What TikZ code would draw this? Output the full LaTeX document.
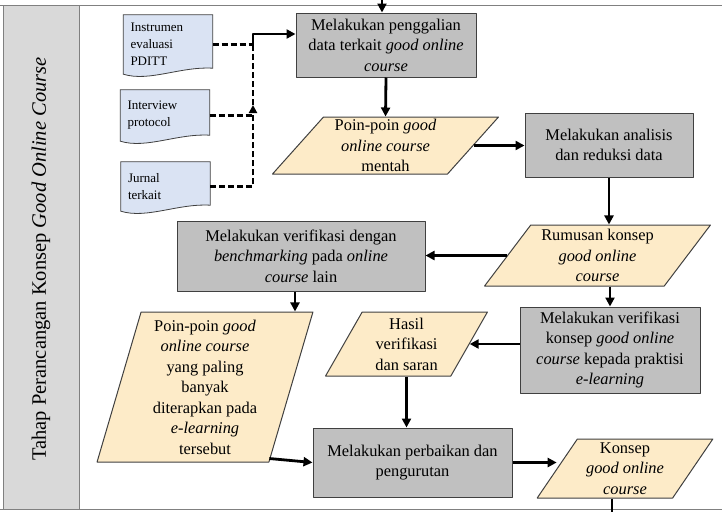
\documentclass[tikz,border=0pt]{standalone}
\usepackage{fontspec}
\setmainfont{Liberation Serif}
\usetikzlibrary{shapes.geometric,arrows.meta,backgrounds}
\definecolor{boxgray}{RGB}{192,192,192}
\definecolor{paracream}{RGB}{253,235,200}
\definecolor{docblue}{RGB}{218,227,243}
\definecolor{lanegray}{RGB}{217,217,217}
\definecolor{edgegray}{RGB}{64,64,64}
\begin{document}
\begin{tikzpicture}[x=1pt, y=-1pt, font=\fontsize{16.4pt}{20.5pt}\selectfont, line join=round,
		procbox/.style={draw=edgegray, line width=1pt, fill=boxgray, align=center, inner sep=1pt},
		databox/.style={trapezium, trapezium stretches=true, draw=edgegray, line width=1pt, fill=paracream, align=center, inner sep=1pt},
		docbox/.style={minimum width=89pt, align=left, inner sep=0pt, text width=75pt, font=\fontsize{13pt}{17pt}\selectfont},
		arr/.style={line width=2.8pt, -{Triangle[length=9pt,width=9pt]}},
		dasharr/.style={line width=2.4pt, dash pattern=on 6pt off 3pt},
		lane/.style={draw=gray, line width=1pt}]
			\useasboundingbox (0,0) rectangle (722,512);
			\fill [lanegray] (3,5) rectangle (79,509);
			\draw [lane] (3,5) rectangle (79,509);
			\draw [lane] (0,5) -- (722,5);
			\draw [lane] (0,509) -- (722,509);
			\node [rotate=90, font=\fontsize{20.5pt}{24pt}\selectfont] (lanetitle) at (41,259) {Tahap Perancangan Konsep \textit{Good Online Course}};
			\node [docbox, minimum height=59pt] (d1) at (168,44.5) {Instrumen\\ evaluasi\\ PDITT};
			\node [docbox, minimum height=51pt] (d2) at (165,115.5) {Interview\\ protocol};
			\node [docbox, minimum height=49pt] (d3) at (165.5,186.5) {Jurnal\\ terkait};
			\begin{scope}[on background layer]
				\foreach \d in {d1,d2,d3}
					\draw [draw=edgegray, line width=0.8pt, fill=docblue] (\d.north west) -- (\d.north east) -- ([yshift=6pt]\d.south east) .. controls ([xshift=-32pt,yshift=8pt]\d.south east) and ([xshift=26pt,yshift=-8pt]\d.south west) .. (\d.south west) -- cycle;
			\end{scope}
			\node [procbox, minimum width=180pt, minimum height=64pt] (b1) at (386,45) {Melakukan penggalian\\ data terkait \textit{good online}\\ \textit{course}};
			\node [databox, trapezium left angle=52, trapezium right angle=128, minimum width=226pt, minimum height=57pt] (p1) at (385.5,145.5) {Poin-poin \textit{good}\\ \textit{online course}\\ mentah};
			\node [procbox, minimum width=168pt, minimum height=64pt] (b2) at (609,145) {Melakukan analisis\\ dan reduksi data};
			\node [databox, trapezium left angle=54, trapezium right angle=126, minimum width=226pt, minimum height=61pt] (p2) at (597.5,255.5) {Rumusan konsep\\ \textit{good online}\\ \textit{course}};
			\node [procbox, minimum width=248pt, minimum height=70pt] (b3) at (301,256) {Melakukan verifikasi dengan\\ \textit{benchmarking} pada \textit{online}\\ \textit{course} lain};
			\node [procbox, minimum width=180pt, minimum height=86pt] (b4) at (610,350) {Melakukan verifikasi\\ konsep \textit{good online}\\ \textit{course} kepada praktisi\\ \textit{e-learning}};
			\node [databox, trapezium left angle=75, trapezium right angle=105, minimum width=216pt, minimum height=150pt] (p3) at (205,387) {Poin-poin \textit{good}\\ \textit{online course}\\ yang paling\\ banyak\\ diterapkan pada\\ \textit{e-learning}\\ tersebut};
			\node [databox, trapezium left angle=64, trapezium right angle=116, minimum width=162pt, minimum height=64pt] (p4) at (406.5,344) {Hasil\\ verifikasi\\ dan saran};
			\node [procbox, minimum width=199pt, minimum height=69pt] (b5) at (412.5,462.5) {Melakukan perbaikan dan\\ pengurutan};
			\node [databox, trapezium left angle=58, trapezium right angle=122, minimum width=176pt, minimum height=59pt] (p5) at (625,468.5) {Konsep\\ \textit{good online}\\ \textit{course}};
			\coordinate (topin) at (382,0);
			\coordinate (jn) at (253,47);
			\coordinate (jt) at (253,34);
			\coordinate (tip) at (253,105);
			\coordinate (out) at (612,512);
			\draw [dasharr] (d1.east) -- (d1.east -| jn);
			\draw [dasharr] (d2.east) -- (d2.east -| jn);
			\draw [dasharr] (tip) -- (jn);
			\draw [dasharr, -{Triangle[length=8pt,width=8pt]}] (d3.east) -| (tip);
			\draw [arr] (jn) -- (jt) -- (jt -| b1.west);
			\draw [arr] (topin) -- (topin |- b1.north);
			\draw [arr] (b1.south) -- (p1.north);
			\draw [arr] (p1.east) -- (p1.east -| b2.west);
			\draw [arr] (b2.south) -- (b2.south |- p2.north);
			\draw [arr] (p2.west) -- (p2.west -| b3.east);
			\draw [arr] (b4.north |- p2.south) -- (b4.north);
			\draw [arr] ([xshift=-6pt]b3.south) -- ([xshift=-6pt]b3.south |- p3.north);
			\draw [arr] (p4.east -| b4.west) -- (p4.east);
			\draw [arr] (p4.south) -- (p4.south |- b5.north);
			\draw [arr] ([yshift=4pt]p3.bottom right corner) -- (b5.west);
			\draw [arr] (b5.east) -- (b5.east -| p5.west);
			\draw [line width=2.8pt] (out |- p5.south) -- (out);
\end{tikzpicture}
\end{document}
